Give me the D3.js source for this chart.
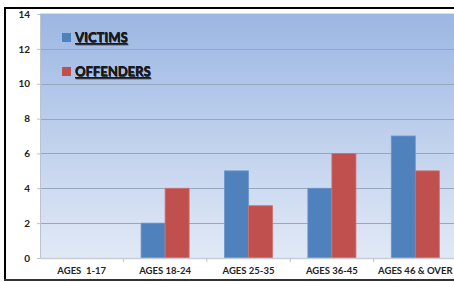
<!DOCTYPE html>
<html>
<head>
<meta charset="utf-8">
<script src="https://cdn.jsdelivr.net/npm/d3@7"></script>
<style>
  body { margin: 0; background: #fff; }
  svg { display: block; font-family: Lato, "Open Sans", sans-serif; }
</style>
</head>
<body>
<svg id="chart"></svg>
<script>
var categories = ["AGES  1-17", "AGES 18-24", "AGES 25-35", "AGES 36-45", "AGES 46 & OVER"];
var victims = [0, 2, 5, 4, 7];
var offenders = [0, 4, 3, 6, 5];
var seriesNames = ["VICTIMS", "OFFENDERS"];
var yTicks = [0, 2, 4, 6, 8, 10, 12, 14];

var width = 454, height = 282;
var margin = { left: 40, top: 14, right: -3, bottom: 24 };
var colors = ["#4f81bd", "#c0504d"];

var svg = d3.select("#chart").attr("width", width).attr("height", height);

// frame lines
svg.append("rect").attr("x", 4).attr("y", 7).attr("width", 2).attr("height", 274).attr("fill", "#000");
svg.append("rect").attr("x", 4).attr("y", 7).attr("width", 450).attr("height", 2).attr("fill", "#000");
svg.append("rect").attr("x", 4).attr("y", 279).attr("width", 450).attr("height", 2).attr("fill", "#333");

var x = d3.scaleBand().domain(categories)
  .range([margin.left, width - margin.right]);
var y = d3.scaleLinear().domain([0, 14]).range([height - margin.bottom, margin.top]);
var inner = d3.scaleBand().domain(seriesNames)
  .range([0, x.bandwidth()]).paddingInner(0).paddingOuter(0.735);

var defs = svg.append("defs");
var grad = defs.append("linearGradient").attr("id", "bg").attr("x1", 0).attr("y1", 0).attr("x2", 0).attr("y2", 1);
grad.append("stop").attr("offset", "0%").attr("stop-color", "#9cb7e3");
grad.append("stop").attr("offset", "100%").attr("stop-color", "#e1e9f6");

svg.append("rect")
  .attr("x", margin.left).attr("y", margin.top)
  .attr("width", width - margin.left).attr("height", y(0) - margin.top)
  .attr("fill", "url(#bg)");
svg.append("line")
  .attr("x1", margin.left).attr("x2", width)
  .attr("y1", margin.top - 0.5).attr("y2", margin.top - 0.5)
  .attr("stroke", "#d8dde6");

// grid
svg.append("g").selectAll("line").data(yTicks.filter(d => d > 0 && d < 14)).enter()
  .append("line")
  .attr("x1", margin.left).attr("x2", width)
  .attr("y1", d => Math.round(y(d)) + 0.5).attr("y2", d => Math.round(y(d)) + 0.5)
  .attr("stroke", "#97a7c0").attr("stroke-width", 1.2);

// bars
var groups = svg.append("g").selectAll("g").data(categories).enter()
  .append("g").attr("transform", d => "translate(" + x(d) + ",0)");
groups.selectAll("rect")
  .data((d, i) => [victims[i], offenders[i]].map((v, j) => ({ key: seriesNames[j], value: v, j: j })))
  .enter().append("rect")
  .attr("x", d => inner(d.key))
  .attr("y", d => y(d.value))
  .attr("width", inner.bandwidth())
  .attr("height", d => y(0) - y(d.value))
  .attr("fill", d => colors[d.j])
  .attr("stroke", d => d.j === 0 ? "#6c96cc" : "#d0706d")
  .attr("stroke-width", 0.8)
  .style("display", d => d.value > 0 ? null : "none");

// y axis
var yAxis = svg.append("g").attr("transform", "translate(" + margin.left + ",0)")
  .call(d3.axisLeft(y).tickValues(yTicks).tickSize(3).tickPadding(7).tickFormat(d3.format("d")));
yAxis.select(".domain").attr("stroke", "#bcc3cc");
yAxis.selectAll(".tick line").attr("stroke", "#bcc3cc");
yAxis.selectAll("text").attr("font-size", "10px").attr("font-weight", "bold").attr("fill", "#222")
  .attr("font-family", "Lato, sans-serif");

// x axis
var xAxis = svg.append("g").attr("transform", "translate(0," + y(0) + ")")
  .call(d3.axisBottom(x).tickSize(0).tickPadding(9));
xAxis.select(".domain").attr("stroke", "#c8cdd4").attr("stroke-width", 1.5);
xAxis.selectAll("text").attr("font-size", "9.5px").attr("font-weight", "bold").attr("fill", "#222")
  .attr("font-family", "Lato, sans-serif").style("white-space", "pre");
xAxis.selectAll(".sep").data(categories.slice(1)).enter()
  .append("line").attr("class", "sep")
  .attr("x1", d => x(d)).attr("x2", d => x(d)).attr("y1", 0).attr("y2", 4)
  .attr("stroke", "#bcc3cc");

// legend
var legend = svg.append("g").selectAll("g").data(seriesNames).enter()
  .append("g").attr("transform", (d, i) => "translate(62," + (33 + i * 34) + ")");
legend.append("rect").attr("width", 9).attr("height", 9).attr("fill", (d, i) => colors[i]);
legend.append("text").attr("x", 13).attr("y", 9)
  .attr("font-size", "13px").attr("font-weight", "bold").attr("fill", "#1a1a1a")
  .attr("text-decoration", "underline")
  .style("text-shadow", "0.6px 0.8px 0.6px rgba(0,0,0,0.45)")
  .text(d => d);
</script>
</body>
</html>
